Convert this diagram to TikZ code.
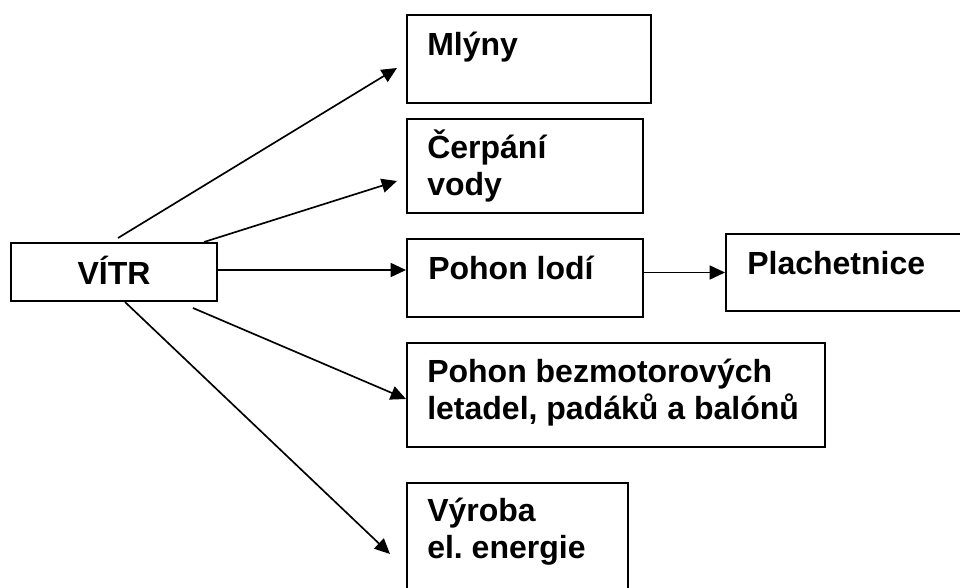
\documentclass[tikz,border=0pt]{standalone}
\usepackage{fontspec}
\setmainfont{Liberation Sans}
\usetikzlibrary{arrows.meta}
\frenchspacing

\begin{document}
\begin{tikzpicture}[
      x=0.75pt, y=-0.75pt,
      box/.style={rectangle, draw=black, line width=1.5pt, inner sep=0pt},
      txt/.style={anchor=base west, inner sep=0pt, align=flush left, text width=330pt,
                  font=\bfseries\fontsize{24}{27.75}\selectfont},
      arr/.style={-{Triangle[length=11.5pt, width=10.5pt]}, line width=1.25pt}
    ]
    \useasboundingbox (0,0) rectangle (960,588);

    %--- Source ---
    \node[box, minimum width=154.5pt, minimum height=43.5pt] (vitr) at (114,272) {};
    \node[txt, anchor=base, text width=] (vitrT) at ([shift={(0,42)}]vitr.north) {VÍTR};

    %--- Uses ---
    \node[box, minimum width=183pt, minimum height=66pt]    (mlyny) at (529,59) {};
    \node[box, minimum width=177pt, minimum height=70.5pt]  (cerp)  at (525,166) {};
    \node[box, minimum width=177pt, minimum height=58.5pt]  (lodi)  at (525,278) {};
    \node[box, minimum width=186.75pt, minimum height=57.75pt] (plach) at (850.5,272.5) {};
    \node[box, minimum width=313.5pt, minimum height=78pt]  (bezm)  at (616,395) {};
    \node[box, minimum width=165.75pt, minimum height=91.5pt] (vyr) at (517.5,544) {};

    \node[txt] (mlynyT) at ([shift={(21,42)}]mlyny.north west) {Mlýny};
    \node[txt] (cerpT)  at ([shift={(21,41)}]cerp.north west)  {Čerpání\\vody};
    \node[txt] (lodiT)  at ([shift={(22,41)}]lodi.north west)  {Pohon lodí};
    \node[txt] (plachT) at ([shift={(22,41)}]plach.north west) {Plachetnice};
    \node[txt] (bezmT)  at ([shift={(21,40)}]bezm.north west)  {Pohon bezmotorových\\letadel, padáků a balónů};
    \node[txt] (vyrT)   at ([shift={(21,39)}]vyr.north west)   {Výroba\\el. energie};

    %--- Arrow ends ---
    \coordinate (outA) at ([shift={(4,-4)}]vitr.north);
    \coordinate (inA)  at ([shift={(-9,9)}]mlyny.west);
    \coordinate (outB) at ([shift={(-14,0)}]vitr.north east);
    \coordinate (inB)  at ([shift={(-9,15)}]cerp.west);
    \coordinate (outD) at ([shift={(79,6)}]vitr.south);
    \coordinate (inD)  at ([shift={(0,4)}]bezm.west);
    \coordinate (outE) at ([shift={(11,0)}]vitr.south);
    \coordinate (inE)  at ([shift={(-16,72)}]vyr.north west);

    \draw[arr] (outA) -- (inA);
    \draw[arr] (outB) -- (inB);
    \draw[arr] ([yshift=1.5pt]vitr.east) -- ([yshift=1.5pt]vitr.east -| lodi.west);
    \draw[arr] (lodi.east |- plach.west) -- (plach.west);
    \draw[arr] (outD) -- (inD);
    \draw[arr] (outE) -- (inE);
  \end{tikzpicture}
\end{document}
